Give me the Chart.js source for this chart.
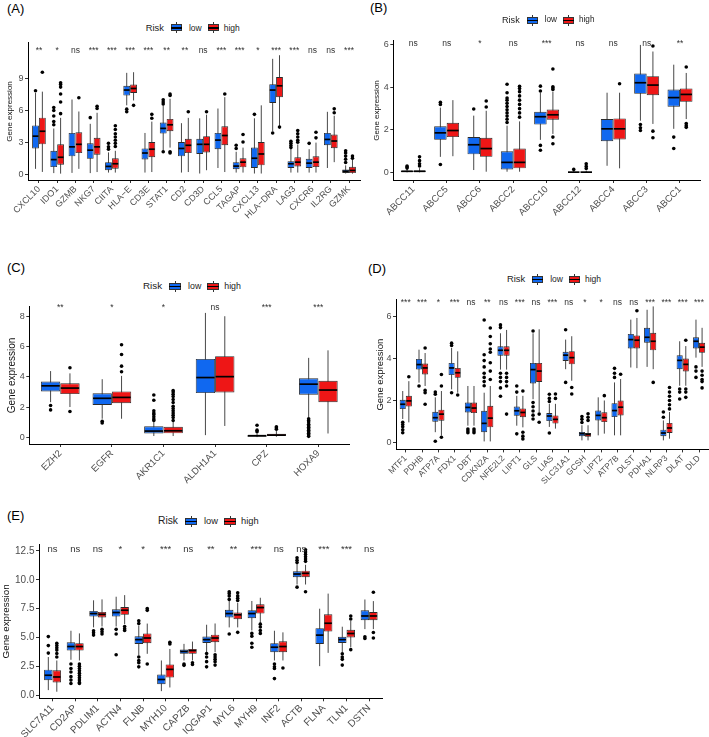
<!DOCTYPE html>
<html>
<head>
<meta charset="utf-8">
<script src="https://cdn.jsdelivr.net/npm/chart.js@4.4.1/dist/chart.umd.min.js"></script>
<style>
  body { margin: 0; background: #fff; font-family: "Liberation Sans", Arial, sans-serif; }
  #fig { position: relative; width: 709px; height: 737px; overflow: hidden; background: #fff; }
  #fig canvas { position: absolute; }
  .tag { position: absolute; font-size: 13px; line-height: 13px; color: #000; }
  .leg { position: absolute; display: flex; align-items: center; height: 12px; line-height: 12px; color: #222; white-space: nowrap; }
  .key { position: relative; display: inline-block; height: 11px; }
  .key .w { position: absolute; top: 0; width: 1px; height: 11px; background: #333; }
  .key .b { position: absolute; left: 0; top: 2px; height: 7px; box-sizing: border-box; border: 1px solid #333; }
  .key .m { position: absolute; left: 0; top: 5px; height: 1.5px; background: #000; }
</style>
</head>
<body>
<div id="fig"></div>
<script>
const BLUE = '#1068F0';
const RED = '#EE1616';

// ---- panel A : immune genes ----
const genesA = ['CXCL10', 'IDO1', 'GZMB', 'NKG7', 'CIITA', 'HLA−E', 'CD3E', 'STAT1', 'CD2', 'CD3D', 'CCL5', 'TAGAP', 'CXCL13', 'HLA−DRA', 'LAG3', 'CXCR6', 'IL2RG', 'GZMK'];
const sigA = ['**', '*', 'ns', '***', '***', '***', '***', '**', '**', 'ns', '***', '***', '*', '***', '***', 'ns', 'ns', '***'];
// [min, q1, median, q3, max]
const lowA = [
  [0.5, 2.42, 3.58, 4.59, 7.65], [0.1, 0.67, 1.37, 2.2, 4.3], [0.12, 1.68, 2.57, 3.88, 7.03], [0.1, 1.44, 2.26, 2.9, 4.74],
  [0.15, 0.37, 0.73, 1.13, 2.05], [6.48, 7.4, 7.92, 8.32, 9.54], [0.15, 1.38, 1.99, 2.42, 3.88], [2.2, 3.82, 4.31, 4.86, 6.48],
  [0.15, 1.68, 2.42, 3.03, 4.8], [0.06, 1.9, 2.81, 3.33, 5.26], [0.58, 2.35, 3.21, 3.88, 6.18], [0.15, 0.46, 0.76, 1.13, 2.11],
  [0.06, 0.58, 1.5, 2.51, 5.26], [4.04, 6.7, 7.92, 8.47, 10.86], [0.15, 0.58, 0.98, 1.22, 2.35], [0.15, 0.58, 1.04, 1.44, 2.35],
  [0.58, 2.72, 3.27, 3.88, 5.87], [0.06, 0.12, 0.28, 0.43, 0.83]
];
const highA = [
  [0.21, 2.81, 4.04, 5.32, 7.77], [0.05, 0.89, 1.59, 2.81, 5.3], [0.5, 1.99, 2.81, 3.94, 5.9], [0.2, 1.83, 2.57, 3.42, 5.78],
  [0.15, 0.52, 0.98, 1.5, 2.2], [6.94, 7.65, 8.07, 8.44, 9.6], [0.2, 1.59, 2.35, 3.03, 4.95], [2.5, 4.04, 4.65, 5.2, 7.1],
  [0.2, 1.99, 2.72, 3.33, 5.3], [0.37, 2.05, 2.81, 3.58, 5.6], [0.2, 2.72, 3.64, 4.5, 7.25], [0.15, 0.64, 1.13, 1.5, 2.5],
  [0.06, 0.83, 1.9, 3.03, 6.48], [4.5, 7.25, 8.32, 9.14, 11.2], [0.15, 0.73, 1.13, 1.59, 2.8], [0.15, 0.67, 1.13, 1.68, 2.97],
  [1.13, 2.45, 3.12, 3.73, 5.5], [0.05, 0.1, 0.35, 0.7, 1.4]
];
const lowOutA = [[7.86], [4.65, 4.95, 5.47, 6.0, 6.27], [], [5.32], [2.35, 2.57, 2.9], [5.87, 6.12], [], [6.6, 6.8, 7.0, 2.11],
  [], [], [], [2.42, 2.72], [5.63], [3.88], [2.5, 2.7, 2.9, 3.1], [2.9], [], [1.1, 1.4, 1.7, 2.0, 2.2]];
const highOutA = [[9.6], [5.7, 6.8, 7.55, 8.2, 8.45, 8.6], [7.19], [6.18, 6.39], [2.6, 2.9, 3.2, 3.5, 3.8, 4.2, 4.56], [6.48],
  [5.26, 5.63], [7.4, 7.55, 2.11, 2.0], [5.87], [5.87], [7.55], [3.03, 3.73], [], [4.43], [3.0, 3.2, 3.5, 3.8, 4.1],
  [3.42, 3.94], [5.78, 6.15], [1.5, 1.7]];
const ticksA = [0, 3, 6, 9];

// ---- panel B : ABC transporters ----
const genesB = ['ABCC11', 'ABCC5', 'ABCC6', 'ABCC2', 'ABCC10', 'ABCC12', 'ABCC4', 'ABCC3', 'ABCC1'];
const sigB = ['ns', 'ns', '*', 'ns', '***', 'ns', 'ns', 'ns', '**'];
const lowB = [
  [0, 0.02, 0.05, 0.08, 0.16], [0.73, 1.53, 1.86, 2.17, 3.05], [0.11, 0.85, 1.3, 1.66, 2.67], [0.03, 0.14, 0.47, 0.99, 2.2],
  [1.53, 2.25, 2.62, 2.85, 3.75], [0, 0, 0.01, 0.03, 0.07], [0.31, 1.47, 2.05, 2.51, 3.75], [2.43, 3.7, 4.22, 4.65, 6.0],
  [2.05, 3.09, 3.52, 3.9, 5.07]
];
const highB = [
  [0, 0.02, 0.05, 0.09, 0.2], [0.76, 1.66, 1.97, 2.33, 3.4], [0.03, 0.73, 1.12, 1.63, 2.9], [0.03, 0.19, 0.47, 1.12, 2.4],
  [1.81, 2.48, 2.71, 2.96, 3.8], [0, 0, 0.01, 0.03, 0.08], [0.19, 1.55, 2.05, 2.54, 3.75], [2.28, 3.63, 4.11, 4.53, 5.69],
  [2.51, 3.32, 3.67, 3.95, 4.68]
];
const lowOutB = [[0.2, 0.25, 0.3], [0.37, 3.2, 3.3], [2.98], [2.35, 2.5, 2.65, 2.8, 2.95, 3.1, 3.25, 3.4, 3.5, 3.75, 4.15],
  [1.04, 1.27, 3.83, 4.06], [0.14], [], [1.97, 2.1, 2.25], [1.12, 1.66]];
const highOutB = [[0.3, 0.4, 0.55, 0.73], [], [3.08, 3.36], [2.6, 2.8, 3.0, 3.2, 3.4, 3.6, 3.8, 3.95, 4.05],
  [1.35, 1.66, 3.9, 3.97, 4.03, 4.87], [0.18, 0.28, 0.4], [4.17], [1.63, 1.94, 5.95], [2.12, 2.2, 2.3, 4.96]];
const ticksB = [0, 2, 4, 6];

// ---- panel C ----
const genesC = ['EZH2', 'EGFR', 'AKR1C1', 'ALDH1A1', 'CPZ', 'HOXA9'];
const sigC = ['**', '*', '*', 'ns', '***', '***'];
const lowC = [[2.32, 3.04, 3.41, 3.69, 4.39], [1.22, 2.14, 2.58, 2.91, 3.85], [0.07, 0.24, 0.4, 0.72, 1.0],
  [0.13, 2.93, 3.96, 5.2, 8.26], [0, 0.03, 0.09, 0.13, 0.24], [1.33, 2.82, 3.52, 3.91, 5.27]];
const highC = [[2.0, 2.86, 3.26, 3.58, 4.24], [1.22, 2.25, 2.64, 3.04, 4.07], [0.07, 0.25, 0.42, 0.68, 1.0],
  [0.74, 2.97, 4.02, 5.38, 8.04], [0.02, 0.07, 0.13, 0.22, 0.4], [0.24, 2.32, 3.13, 3.74, 5.77]];
const lowOutC = [[2.1, 1.81], [1.05, 0.94], [1.1, 1.2, 1.35, 1.5, 1.6, 1.75, 2.45, 2.8], [], [0.35, 0.46, 0.79],
  [0.05, 0.15, 0.25, 0.35, 0.45, 0.55, 0.65, 0.75, 0.85, 1.0, 1.1, 1.22]];
const highOutC = [[4.61, 1.7], [4.35, 4.72, 5.49, 6.14], [1.1, 1.3, 1.45, 1.6, 1.75, 1.9, 2.05, 2.3, 2.5, 2.7, 2.85, 3.0, 3.1],
  [], [0.52, 0.6, 0.68], []];
const ticksC = [0, 2, 4, 6, 8];

// ---- panel D ----
const genesD = ['MTF1', 'PDHB', 'ATP7A', 'FDX1', 'DBT', 'CDKN2A', 'NFE2L2', 'LIPT1', 'GLS', 'LIAS', 'SLC31A1', 'GCSH', 'LIPT2', 'ATP7B', 'DLST', 'PDHA1', 'NLRP3', 'DLAT', 'DLD'];
const sigD = ['***', '***', '*', '***', 'ns', '**', 'ns', '***', 'ns', '***', 'ns', '*', '*', 'ns', 'ns', '***', '***', '***', '***'];
const lowD = [
  [1.12, 1.59, 1.82, 2.03, 2.45], [2.85, 3.47, 3.71, 3.98, 4.42], [0.49, 0.99, 1.18, 1.46, 2.15], [2.53, 3.21, 3.55, 3.79, 4.5],
  [0.8, 1.43, 1.67, 1.9, 2.69], [0.05, 0.49, 0.91, 1.51, 2.37], [3.47, 4.13, 4.39, 4.58, 5.2], [0.8, 1.27, 1.51, 1.71, 2.22],
  [2.06, 2.81, 3.47, 3.79, 5.2], [0.74, 1.02, 1.26, 1.4, 1.84], [3.49, 3.88, 4.16, 4.32, 4.9], [0.1, 0.3, 0.42, 0.5, 0.82],
  [0.34, 1.05, 1.29, 1.52, 2.15], [0.34, 1.21, 1.52, 1.87, 2.86], [3.57, 4.48, 4.9, 5.17, 5.85], [3.6, 4.75, 5.01, 5.46, 6.32],
  [0.1, 0.3, 0.45, 0.61, 1.05], [2.7, 3.49, 3.91, 4.15, 4.82], [4.04, 4.48, 4.82, 5.01, 5.85]
];
const highD = [
  [0.96, 1.71, 1.98, 2.22, 2.92], [2.69, 3.24, 3.55, 3.76, 4.26], [0.33, 1.04, 1.35, 1.56, 2.45], [2.37, 3.08, 3.32, 3.55, 4.34],
  [0.8, 1.4, 1.64, 1.9, 2.69], [0.05, 0.72, 1.16, 1.75, 2.69], [3.47, 4.13, 4.39, 4.58, 5.36], [0.72, 1.2, 1.43, 1.62, 2.22],
  [1.43, 2.88, 3.4, 3.79, 5.39], [0.66, 0.9, 1.1, 1.29, 1.84], [2.94, 3.72, 4.04, 4.35, 5.06], [0.1, 0.27, 0.38, 0.45, 0.82],
  [0.42, 0.97, 1.18, 1.44, 2.0], [0.34, 1.29, 1.68, 2.0, 3.02], [3.54, 4.48, 4.87, 5.1, 5.93], [3.49, 4.39, 4.82, 5.22, 6.48],
  [0.18, 0.45, 0.69, 0.93, 1.45], [2.7, 3.38, 3.72, 4.0, 4.59], [3.6, 4.27, 4.54, 4.75, 5.46]
];
const lowOutD = [[0.46, 0.6, 0.75, 0.85, 0.96], [2.69], [2.3, 2.4, 0.06], [4.62, 4.73, 2.37], [0.46, 0.55, 0.64],
  [2.7, 2.9, 3.1, 3.3, 3.6, 3.9, 4.18, 5.83], [5.47, 5.6, 3.3, 3.1, 2.9, 2.6, 2.2], [2.4, 2.69, 0.41],
  [1.12, 1.3, 1.5, 1.7, 1.9, 5.31], [1.95, 2.1, 2.3, 0.45], [5.37, 2.86], [0.95, 1.1, 1.24], [], [3.1, 3.3, 3.53], [], [],
  [1.2, 1.45], [2.07, 2.4, 2.55], [3.1, 3.4, 3.6]];
const highOutD = [[3.13], [4.5, 2.48, 2.37, 1.82], [2.69, 3.24, 0.25], [2.26], [0.46, 0.55, 0.64],
  [3.0, 3.4, 3.8, 4.3, 4.45, 4.7, 5.05, 5.45], [3.3, 3.1, 2.9, 2.69, 1.35], [2.45, 0.49, 0.3, 0.17], [1.35, 0.96],
  [2.1, 2.31], [2.62, 2.31], [1.05, 1.2, 1.37], [2.23], [3.25], [6.27], [2.86], [1.6, 1.8, 2.0, 2.2, 2.4, 2.62],
  [4.87, 2.15, 2.4, 2.55], [2.6, 2.9, 3.0, 3.2, 3.4]];
const ticksD = [0, 2, 4, 6];

// ---- panel E ----
const genesE = ['SLC7A11', 'CD2AP', 'PDLIM1', 'ACTN4', 'FLNB', 'MYH10', 'CAPZB', 'IQGAP1', 'MYL6', 'MYH9', 'INF2', 'ACTB', 'FLNA', 'TLN1', 'DSTN'];
const sigE = ['ns', 'ns', 'ns', '*', '*', '***', 'ns', '**', '**', '***', 'ns', 'ns', '***', '***', 'ns'];
const lowE = [
  [0.43, 1.29, 1.72, 2.2, 3.3], [3.06, 3.86, 4.21, 4.58, 5.58], [5.87, 6.81, 7.07, 7.3, 8.22], [5.95, 6.81, 7.16, 7.44, 8.53],
  [3.44, 4.44, 4.81, 5.1, 6.0], [0.34, 0.94, 1.35, 1.78, 3.0], [3.0, 3.58, 3.78, 3.95, 4.44], [3.72, 4.52, 4.81, 5.07, 6.1],
  [5.87, 6.73, 7.07, 7.39, 8.16], [5.6, 6.67, 7.07, 7.36, 8.16], [3.0, 3.72, 4.15, 4.5, 5.58], [9.59, 10.22, 10.5, 10.74, 11.37],
  [2.51, 4.43, 5.2, 5.8, 7.49], [3.72, 4.52, 4.81, 5.06, 5.93], [5.72, 6.49, 6.86, 7.35, 8.29]
];
const highE = [
  [0.29, 1.09, 1.57, 2.15, 3.0], [3.0, 3.86, 4.21, 4.5, 5.35], [5.95, 6.73, 7.0, 7.21, 8.3], [6.15, 6.96, 7.36, 7.64, 8.67],
  [3.58, 4.5, 4.95, 5.35, 6.2], [0.66, 1.52, 2.23, 2.66, 4.0], [3.0, 3.58, 3.86, 4.0, 4.64], [3.72, 4.58, 4.95, 5.24, 6.21],
  [5.87, 6.58, 6.96, 7.16, 8.0], [6.21, 7.07, 7.59, 7.87, 8.44], [3.0, 3.72, 4.21, 4.67, 5.44], [9.59, 10.22, 10.56, 10.79, 11.3],
  [3.66, 5.51, 6.23, 7.0, 8.8], [4.14, 5.0, 5.34, 5.66, 6.43], [5.72, 6.49, 6.86, 7.2, 8.15]
];
const lowOutE = [[3.64, 4.29, 5.07], [1.0, 1.3, 1.6, 2.0, 2.3, 2.7], [5.2, 5.4, 5.58], [5.3, 5.7, 3.5], [2.45, 2.8, 3.0, 3.3, 6.2, 6.44],
  [], [2.58, 2.7], [2.45, 2.9, 3.3, 3.6], [8.3, 8.6, 8.8, 8.96, 5.3], [4.15, 4.5, 5.1, 5.35], [1.43, 2.3, 2.45, 2.7],
  [11.5, 11.7, 11.9, 9.36], [], [2.6, 3.1, 3.3, 3.58], [4.91, 5.06]];
const highOutE = [[3.3, 3.6, 3.9, 4.1, 4.3, 4.5], [1.0, 1.1, 1.3, 1.5, 1.7, 1.9, 2.1, 2.3, 2.5, 2.7], [5.3, 5.5, 5.7],
  [5.6, 5.75, 5.95], [2.7, 7.35, 7.5], [4.44, 4.58], [2.65, 2.8], [2.6, 2.9, 3.1, 3.3, 3.5], [8.2, 8.4, 8.6, 8.87, 5.44],
  [5.35, 5.6, 5.9, 6.15], [2.35], [8.96, 11.6, 11.8, 12.0, 12.2, 12.4, 12.6], [], [3.94, 6.6, 6.86], [4.95, 5.43, 8.92]];
const ticksE = [0, 2.5, 5, 7.5, 10, 12.5];

const fig = document.getElementById('fig');
Chart.defaults.font.family = '"Liberation Sans", Arial, sans-serif';

function boxPlugin(p) {
  return {
    id: 'boxes',
    beforeDatasetsDraw(chart) {
      const ctx = chart.ctx, ys = chart.scales.y;
      ctx.save();
      ctx.strokeStyle = '#333';
      ctx.lineWidth = 0.9;
      [p.low, p.high].forEach((stats, k) => {
        chart.getDatasetMeta(k).data.forEach((bar, i) => {
          const s = stats[i];
          ctx.beginPath();
          ctx.moveTo(bar.x, ys.getPixelForValue(s[0]));
          ctx.lineTo(bar.x, ys.getPixelForValue(s[4]));
          ctx.stroke();
        });
      });
      ctx.restore();
    },
    afterDatasetsDraw(chart) {
      const ctx = chart.ctx, ys = chart.scales.y, xs = chart.scales.x;
      ctx.save();
      [[p.low, p.lowOut], [p.high, p.highOut]].forEach(([stats, outs], k) => {
        chart.getDatasetMeta(k).data.forEach((bar, i) => {
          const half = bar.width / 2 - 0.5;
          const ym = ys.getPixelForValue(stats[i][2]);
          ctx.strokeStyle = '#000';
          ctx.lineWidth = 1.7;
          ctx.beginPath();
          ctx.moveTo(bar.x - half, ym);
          ctx.lineTo(bar.x + half, ym);
          ctx.stroke();
          ctx.fillStyle = '#000';
          outs[i].forEach(v => {
            ctx.beginPath();
            ctx.arc(bar.x, ys.getPixelForValue(v), 1.8, 0, Math.PI * 2);
            ctx.fill();
          });
        });
      });
      ctx.fillStyle = '#333';
      ctx.font = p.sigSize + 'px "Liberation Sans", Arial, sans-serif';
      ctx.textAlign = 'center';
      ctx.textBaseline = 'middle';
      p.sig.forEach((t, i) => {
        ctx.fillText(t, xs.getPixelForValue(i), ys.getPixelForValue(p.sigY));
      });
      ctx.restore();
    }
  };
}

function makePanel(p) {
  const cv = document.createElement('canvas');
  cv.width = p.w;
  cv.height = p.h;
  cv.style.left = p.left + 'px';
  cv.style.top = p.top + 'px';
  fig.appendChild(cv);
  const n = p.genes.length;
  const datasets = [[p.low, BLUE, 'low'], [p.high, RED, 'high']].map(([stats, col, name]) => ({
    label: name,
    data: stats.map((s, i) => ({ x: i, y: [s[1], s[3]] })),
    backgroundColor: col,
    borderColor: '#2b2b2b',
    borderWidth: 0.9,
    borderSkipped: false,
    categoryPercentage: 0.75,
    barPercentage: 1
  }));
  new Chart(cv, {
    type: 'bar',
    data: { datasets },
    options: {
      responsive: false,
      animation: false,
      events: [],
      layout: { padding: { top: p.padTop, right: p.padRight, left: 0, bottom: 0 } },
      plugins: { legend: { display: false }, tooltip: { enabled: false } },
      scales: {
        x: {
          type: 'linear',
          min: -0.6,
          max: n - 0.4,
          offset: false,
          afterBuildTicks: s => { s.ticks = p.genes.map((g, i) => ({ value: i })); },
          afterFit: s => { s.height = p.xH; },
          ticks: {
            autoSkip: false, minRotation: 45, maxRotation: 45, padding: 1,
            color: '#4D4D4D', font: { size: p.xFont },
            callback: v => p.genes[v]
          },
          grid: { offset: false, drawOnChartArea: false, tickLength: 3, color: '#333' },
          border: { color: '#000', width: 1 }
        },
        y: {
          min: p.yMin,
          max: p.yMax,
          afterBuildTicks: s => { s.ticks = p.yTicks.map(v => ({ value: v })); },
          afterFit: s => { s.width = p.yW; },
          ticks: {
            padding: 1.5, color: '#4D4D4D', font: { size: p.yFont },
            callback: v => p.decimals ? v.toFixed(1) : String(v)
          },
          grid: { drawOnChartArea: false, tickLength: 3, color: '#333' },
          border: { color: '#000', width: 1 },
          title: {
            display: true, text: 'Gene expression', color: '#111',
            font: { size: p.titleSize }, padding: { top: p.titlePad, bottom: 0 }
          }
        }
      }
    },
    plugins: [boxPlugin(p)]
  });
}

function makeTag(text, x, y) {
  const d = document.createElement('div');
  d.className = 'tag';
  d.textContent = text;
  d.style.left = x + 'px';
  d.style.top = y + 'px';
  fig.appendChild(d);
}

function keyHtml(col, w, gapL) {
  return `<span class="key" style="width:${w}px;margin-left:${gapL}px">` +
    `<span class="w" style="left:${Math.floor(w / 2)}px"></span>` +
    `<span class="b" style="width:${w}px;background:${col}"></span>` +
    `<span class="m" style="width:${w}px"></span></span>`;
}

function makeLegend(x, cy, tSize, lSize, kw) {
  const d = document.createElement('div');
  d.className = 'leg';
  d.style.left = x + 'px';
  d.style.top = (cy - 6) + 'px';
  d.innerHTML = `<span style="font-size:${tSize}px">Risk</span>` +
    keyHtml(BLUE, kw, 7) +
    `<span style="font-size:${lSize}px;margin-left:7px">low</span>` +
    keyHtml(RED, kw, 6) +
    `<span style="font-size:${lSize}px;margin-left:5px">high</span>`;
  fig.appendChild(d);
}

makePanel({ genes: genesA, sig: sigA, low: lowA, high: highA, lowOut: lowOutA, highOut: highOutA, yTicks: ticksA,
  yMin: -0.55, yMax: 12.36, sigY: 11.65, sigSize: 8.5,
  left: 0, top: 36, w: 364, h: 190, padTop: 3, padRight: 4, yW: 28, xH: 46,
  xFont: 9, yFont: 9, titleSize: 8, titlePad: 4.5 });
makePanel({ genes: genesB, sig: sigB, low: lowB, high: highB, lowOut: lowOutB, highOut: highOutB, yTicks: ticksB,
  yMin: -0.36, yMax: 6.19, sigY: 6.05, sigSize: 8.5,
  left: 360, top: 34, w: 349, h: 190, padTop: 5.3, padRight: 9, yW: 33.3, xH: 44,
  xFont: 9.5, yFont: 9, titleSize: 8, titlePad: 11.9 });
makePanel({ genes: genesC, sig: sigC, low: lowC, high: highC, lowOut: lowOutC, highOut: highOutC, yTicks: ticksC,
  yMin: -0.46, yMax: 8.66, sigY: 8.6, sigSize: 8.5,
  left: 0, top: 300, w: 352, h: 190, padTop: 5, padRight: 2.7, yW: 29.3, xH: 46,
  xFont: 9.5, yFont: 9, titleSize: 10, titlePad: 6.4 });
makePanel({ genes: genesD, sig: sigD, low: lowD, high: highD, lowOut: lowOutD, highOut: highOutD, yTicks: ticksD,
  yMin: -0.33, yMax: 6.79, sigY: 6.67, sigSize: 8.5,
  left: 360, top: 293, w: 349, h: 195, padTop: 5.3, padRight: 0.2, yW: 36, xH: 38.6,
  xFont: 8.5, yFont: 9, titleSize: 9.5, titlePad: 14.3 });
makePanel({ genes: genesE, sig: sigE, low: lowE, high: highE, lowOut: lowOutE, highOut: highOutE, yTicks: ticksE,
  yMin: -0.28, yMax: 13.06, sigY: 12.63, sigSize: 9.5, decimals: true,
  left: 0, top: 537, w: 400, h: 200, padTop: 5.7, padRight: 17.3, yW: 39, xH: 38.7,
  xFont: 10, yFont: 10, titleSize: 9.8, titlePad: 0 });

makeTag('(A)', 7, 1.5);
makeTag('(B)', 370, 1);
makeTag('(C)', 7, 261);
makeTag('(D)', 368, 262);
makeTag('(E)', 7, 509);

makeLegend(145.7, 27.7, 9.4, 8.5, 11);
makeLegend(502, 20, 9.1, 8.2, 11);
makeLegend(143, 286, 9.8, 8.8, 12);
makeLegend(507, 279, 9.4, 8.5, 11);
makeLegend(158, 521, 10.3, 9.3, 12);
</script>
</body>
</html>
